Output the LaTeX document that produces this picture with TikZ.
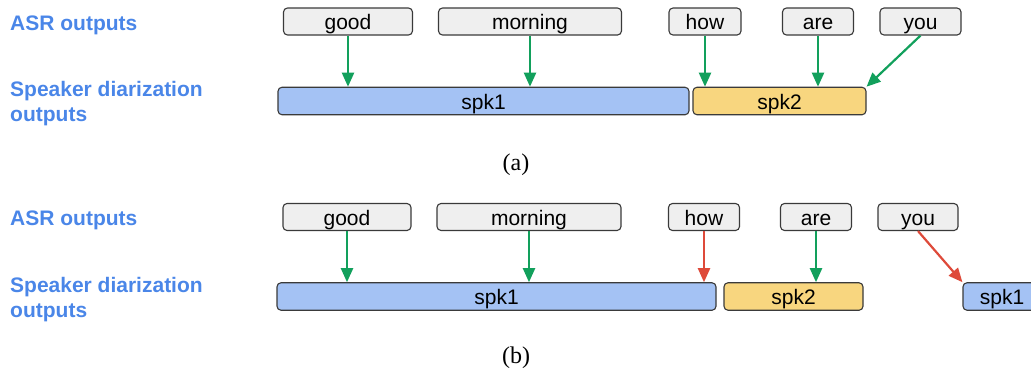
\documentclass[tikz,border=0pt]{standalone}
\usepackage{fontspec}
\setmainfont{Liberation Sans}
\newfontfamily\capfont{Liberation Serif}
\usetikzlibrary{arrows.meta}
\definecolor{labelblue}{HTML}{4A86E8}
\definecolor{wordfill}{HTML}{EFEFEF}
\definecolor{boxline}{HTML}{3A3A3A}
\definecolor{spkblue}{HTML}{A4C2F4}
\definecolor{spkyellow}{HTML}{F8D67F}
\definecolor{okgreen}{HTML}{12A05C}
\definecolor{badred}{HTML}{DE4A3A}
\tikzset{
  wordbox/.style={draw=boxline, line width=1.1pt, fill=wordfill, rounded corners=4pt,
    minimum height=27pt, inner sep=0pt, text height=18pt, text depth=2pt,
    font=\fontsize{21}{25}\selectfont},
  spkbox/.style={draw=boxline, line width=1.1pt, rounded corners=4pt,
    minimum height=27.5pt, inner sep=0pt, text height=18pt, text depth=2pt,
    font=\fontsize{21}{25}\selectfont},
  rowlabel/.style={anchor=base west, inner sep=0pt, text=labelblue,
    font=\fontsize{21}{25}\selectfont\bfseries},
  caption/.style={anchor=base, inner sep=0pt, font=\capfont\fontsize{24}{28}\selectfont},
  okarrow/.style={draw=okgreen, line width=2.2pt, -{Triangle[length=14pt,width=12pt]}},
  badarrow/.style={draw=badred, line width=2.2pt, -{Triangle[length=14pt,width=12pt]}},
}
\begin{document}
\begin{tikzpicture}[x=1pt,y=-1pt]
\useasboundingbox (0,0) rectangle (1031,368);
\clip (0,0) rectangle (1031,368);
% ---------- (a) ----------
\node[rowlabel] (la1) at (10,30) {ASR outputs};
\node[rowlabel] (la2) at (10,96.5) {Speaker diarization};
\node[rowlabel] (la3) at (10,121.5) {outputs};

\node[wordbox, minimum width=129pt] (ag) at (348,21.5) {good};
\node[wordbox, minimum width=183pt] (am) at (530,21.5) {morning};
\node[wordbox, minimum width=72pt]  (ah) at (705,21.5) {how};
\node[wordbox, minimum width=71pt]  (aa) at (818,21.5) {are};
\node[wordbox, minimum width=81pt]  (ay) at (920.5,21.5) {you};

\node[spkbox, fill=spkblue, minimum width=411pt] (as1) at (483.5,101) {spk1};
\node[spkbox, fill=spkyellow, minimum width=173pt] (as2) at (779.5,101) {spk2};

\draw[okarrow] (ag.south) -- (ag.south |- as1.north);
\draw[okarrow] (am.south) -- (am.south |- as1.north);
\draw[okarrow] (ah.south) -- (ah.south |- as2.north);
\draw[okarrow] (aa.south) -- (aa.south |- as2.north);
\draw[okarrow] (ay.south) -- (as2.north east);

\node[caption] (ca) at (516,170.5) {(a)};

% ---------- (b) ----------
\node[rowlabel] (lb1) at (10,225) {ASR outputs};
\node[rowlabel] (lb2) at (10,292) {Speaker diarization};
\node[rowlabel] (lb3) at (10,317) {outputs};

\node[wordbox, minimum width=128pt] (bg) at (347,217) {good};
\node[wordbox, minimum width=184pt] (bm) at (529,217) {morning};
\node[wordbox, minimum width=71pt]  (bh) at (704,217) {how};
\node[wordbox, minimum width=71pt]  (ba) at (816,217) {are};
\node[wordbox, minimum width=80pt]  (by) at (918,217) {you};

\node[spkbox, fill=spkblue, minimum width=439pt] (bs1) at (496.5,296.5) {spk1};
\node[spkbox, fill=spkyellow, minimum width=139pt] (bs2) at (793.5,296.5) {spk2};
\node[spkbox, fill=spkblue, minimum width=78pt] (bs3) at (1002,296.5) {spk1};

\draw[okarrow] (bg.south) -- (bg.south |- bs1.north);
\draw[okarrow] (bm.south) -- (bm.south |- bs1.north);
\draw[badarrow] (bh.south) -- (bh.south |- bs1.north);
\draw[okarrow] (ba.south) -- (ba.south |- bs2.north);
\draw[badarrow] (by.south) -- (bs3.north west);

\node[caption] (cb) at (516,363.5) {(b)};
\end{tikzpicture}
\end{document}
